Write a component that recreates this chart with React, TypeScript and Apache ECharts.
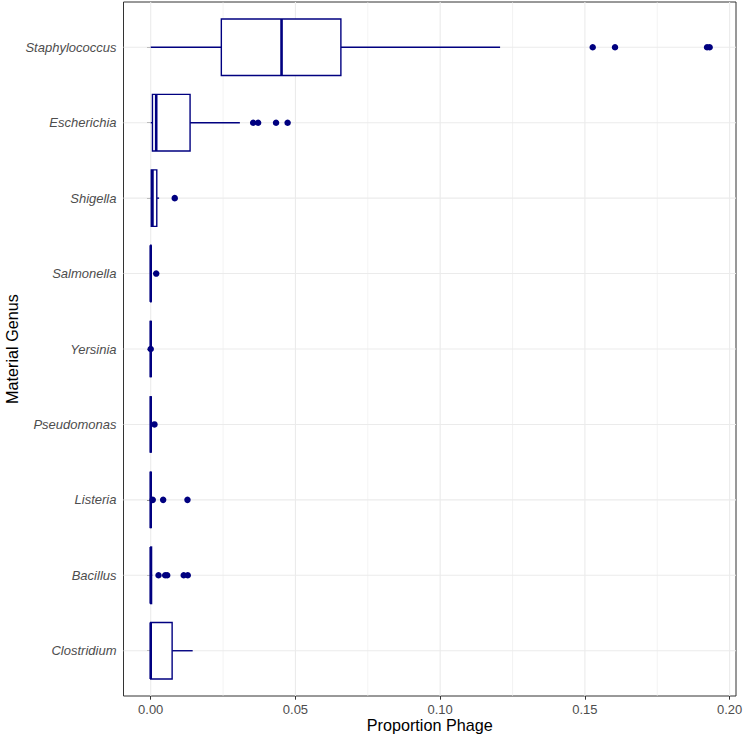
import React, { useEffect, useRef } from "react";
import * as echarts from "echarts";

const genera = [
  "Staphylococcus",
  "Escherichia",
  "Shigella",
  "Salmonella",
  "Yersinia",
  "Pseudomonas",
  "Listeria",
  "Bacillus",
  "Clostridium",
];
const boxMin = [0, 0, 0, 0, 0, 0, 0, 0, 0];
const boxQ1 = [0.0244, 0.0006, 0.0002, 0, 0, 0, 0, 0, 0];
const boxMedian = [0.0452, 0.0019, 0.0006, 0, 0, 0, 0, 0, 0];
const boxQ3 = [0.0657, 0.0136, 0.0021, 0.0001, 0, 0, 0, 0.0003, 0.0074];
const boxMax = [0.1207, 0.0308, 0.0029, 0.0002, 0, 0, 0, 0.0005, 0.0145];

const outlierGenus = [
  "Staphylococcus", "Staphylococcus", "Staphylococcus", "Staphylococcus",
  "Escherichia", "Escherichia", "Escherichia", "Escherichia",
  "Shigella",
  "Salmonella",
  "Yersinia",
  "Pseudomonas",
  "Listeria", "Listeria", "Listeria",
  "Bacillus", "Bacillus", "Bacillus", "Bacillus", "Bacillus",
];
const outlierValue = [
  0.1527, 0.1604, 0.1922, 0.1931,
  0.0354, 0.0371, 0.0433, 0.0473,
  0.0083,
  0.0019,
  0.0,
  0.0013,
  0.0007, 0.0043, 0.0127,
  0.0027, 0.005, 0.0057, 0.0114, 0.0128,
];

const xTicks = [0, 0.05, 0.1, 0.15, 0.2];
const xMinorTicks = [0.025, 0.075, 0.125, 0.175];
const xMin = -0.0094;
const xMax = 0.2022;

const NAVY = "#000080";
const FONT = "Liberation Sans, Arial, Helvetica, sans-serif";

export default function App() {
  const ref = useRef<HTMLDivElement>(null);

  useEffect(() => {
    if (!ref.current) return;
    const chart = echarts.init(ref.current, null, { renderer: "svg" });
    const yIdx = (g: string) => genera.indexOf(g) + 1;
    const yPositions = genera.map((_, i) => i + 1);

    const vLine = (color: string, width: number) => (params: any, api: any) => {
      const cs = params.coordSys;
      const p = api.coord([api.value(0), 1]);
      return {
        type: "line",
        shape: { x1: p[0], y1: cs.y, x2: p[0], y2: cs.y + cs.height },
        style: { stroke: color, lineWidth: width },
        silent: true,
      };
    };

    const option: any = {
      animation: false,
      backgroundColor: "#ffffff",
      grid: {
        left: 123.5,
        top: 2,
        width: 612.5,
        height: 694,
        show: true,
        borderColor: "#333333",
        borderWidth: 1,
        backgroundColor: "#ffffff",
        containLabel: false,
        outerBoundsMode: "none",
      },
      xAxis: {
        type: "value",
        min: xMin,
        max: xMax,
        name: "Proportion Phage",
        nameLocation: "middle",
        nameGap: 21,
        nameMoveOverlap: false,
        nameTextStyle: { color: "#000000", fontSize: 16.2, fontFamily: FONT },
        axisLine: { show: false },
        axisTick: {
          show: true,
          length: 3.7,
          customValues: xTicks,
          lineStyle: { color: "#333333", width: 1 },
        },
        axisLabel: {
          customValues: xTicks,
          margin: 6.5,
          color: "#4D4D4D",
          fontSize: 13,
          fontFamily: FONT,
          formatter: (v: number) => v.toFixed(2),
        },
        splitLine: { show: false },
      },
      yAxis: {
        type: "value",
        inverse: true,
        min: 0.4,
        max: 9.6,
        name: "Material Genus",
        nameLocation: "middle",
        nameGap: 104,
        nameMoveOverlap: false,
        nameTextStyle: { color: "#000000", fontSize: 16.2, fontFamily: FONT },
        axisLine: { show: false },
        axisTick: {
          show: true,
          length: 3.7,
          customValues: yPositions,
          lineStyle: { color: "#333333", width: 1 },
        },
        axisLabel: {
          customValues: yPositions,
          margin: 7,
          color: "#4D4D4D",
          fontSize: 13,
          fontStyle: "italic",
          fontFamily: FONT,
          formatter: (v: number) => genera[Math.round(v) - 1] ?? "",
        },
        splitLine: { show: false },
      },
      series: [
        {
          type: "custom",
          z: 1,
          silent: true,
          data: xMinorTicks.map((v) => [v]),
          renderItem: vLine("#EBEBEB", 0.6),
        },
        {
          type: "custom",
          z: 1,
          silent: true,
          data: xTicks.map((v) => [v]),
          renderItem: vLine("#EBEBEB", 1.1),
        },
        {
          type: "custom",
          z: 1,
          silent: true,
          data: yPositions.map((v) => [0, v]),
          renderItem: (params: any, api: any) => {
            const cs = params.coordSys;
            const p = api.coord([0, api.value(1)]);
            return {
              type: "line",
              shape: { x1: cs.x, y1: p[1], x2: cs.x + cs.width, y2: p[1] },
              style: { stroke: "#EBEBEB", lineWidth: 1.1 },
              silent: true,
            };
          },
        },
        {
          type: "custom",
          z: 3,
          silent: true,
          data: genera.map((g, i) => [
            i + 1,
            boxMin[i],
            boxQ1[i],
            boxMedian[i],
            boxQ3[i],
            boxMax[i],
          ]),
          encode: { x: [1, 2, 3, 4, 5], y: 0 },
          renderItem: (params: any, api: any) => {
            const y = api.value(0);
            const pMin = api.coord([api.value(1), y]);
            const pQ1 = api.coord([api.value(2), y]);
            const pMed = api.coord([api.value(3), y]);
            const pQ3 = api.coord([api.value(4), y]);
            const pMax = api.coord([api.value(5), y]);
            const h = api.size([0, 1])[1] * 0.75;
            const c = pMed[1];
            const lw = 1.4;
            return {
              type: "group",
              children: [
                {
                  type: "line",
                  shape: { x1: pMin[0], y1: c, x2: pQ1[0], y2: c },
                  style: { stroke: NAVY, lineWidth: lw },
                },
                {
                  type: "line",
                  shape: { x1: pQ3[0], y1: c, x2: pMax[0], y2: c },
                  style: { stroke: NAVY, lineWidth: lw },
                },
                {
                  type: "rect",
                  shape: {
                    x: pQ1[0],
                    y: c - h / 2,
                    width: pQ3[0] - pQ1[0],
                    height: h,
                  },
                  style: { fill: "#ffffff", stroke: NAVY, lineWidth: lw },
                },
                {
                  type: "line",
                  shape: { x1: pMed[0], y1: c - h / 2, x2: pMed[0], y2: c + h / 2 },
                  style: { stroke: NAVY, lineWidth: 2.6 },
                },
              ],
            };
          },
        },
        {
          type: "scatter",
          z: 4,
          silent: true,
          symbol: "circle",
          symbolSize: 6.5,
          itemStyle: { color: NAVY, opacity: 1 },
          data: outlierValue.map((v, i) => [v, yIdx(outlierGenus[i])]),
        },
      ],
    };

    chart.setOption(option);
    return () => chart.dispose();
  }, []);

  return (
    <div
      ref={ref}
      style={{ position: "absolute", left: 0, top: 0, width: 744, height: 739 }}
    />
  );
}
